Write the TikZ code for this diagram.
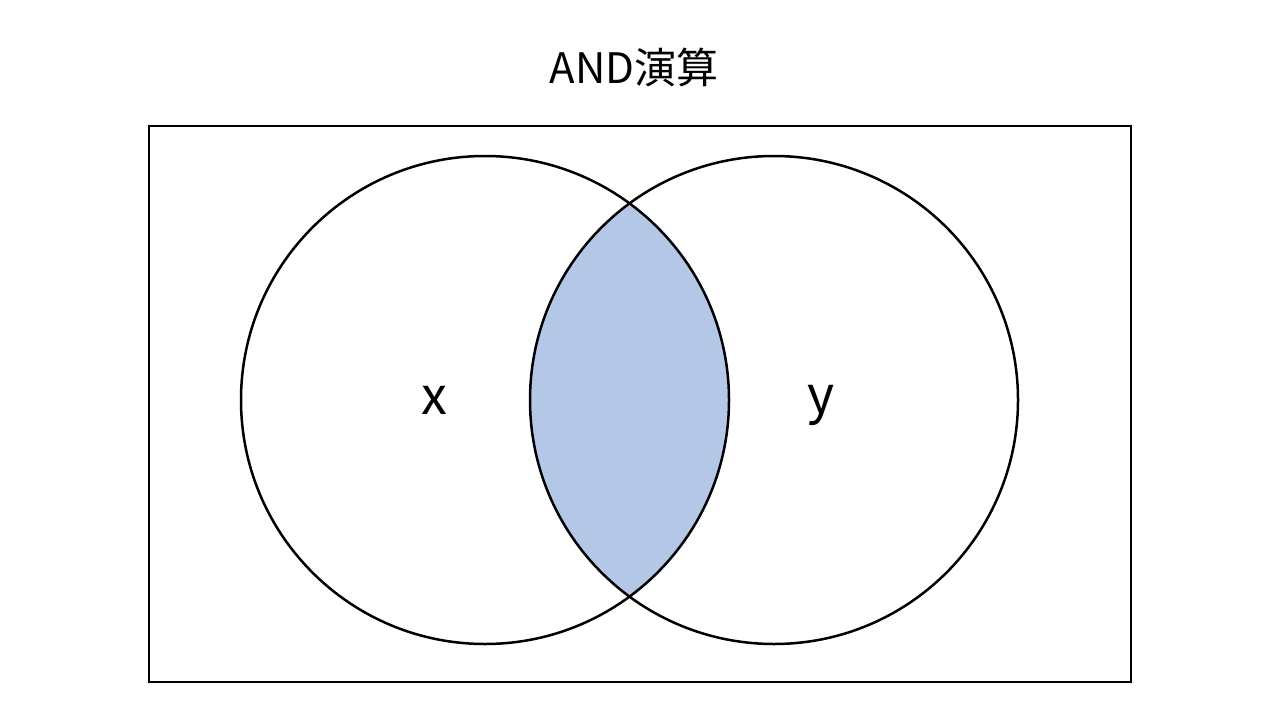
\documentclass[tikz,border=0pt]{standalone}
\usepackage{fontspec}
\setmainfont{Noto Sans CJK JP}
\definecolor{andfill}{HTML}{B4C7E7}
\begin{document}
\begin{tikzpicture}[x=1pt,y=-1pt,
  venn/.style={draw=black,line width=2.5pt},
  lbl/.style={font=\fontsize{52}{60}\selectfont,inner sep=0pt}]
\useasboundingbox (0,0) rectangle (1280,720);
\fill[white] (0,0) rectangle (1280,720);
\node[draw=black,line width=2.5pt,minimum width=982pt,minimum height=556pt,inner sep=0pt] (frame) at (640,404) {};
\node[font=\fontsize{42}{48}\selectfont,inner sep=0pt] (title) at (634,67) {AND演算};
\coordinate (cx) at (485,400);
\coordinate (cy) at (774,400);
\begin{scope}
  \clip (cx) circle (244);
  \fill[andfill] (cy) circle (244);
\end{scope}
\draw[venn] (cx) circle (244);
\draw[venn] (cy) circle (244);
\node[lbl] (x) at (434,400) {x};
\node[lbl] (y) at (821,405) {y};
\end{tikzpicture}
\end{document}
